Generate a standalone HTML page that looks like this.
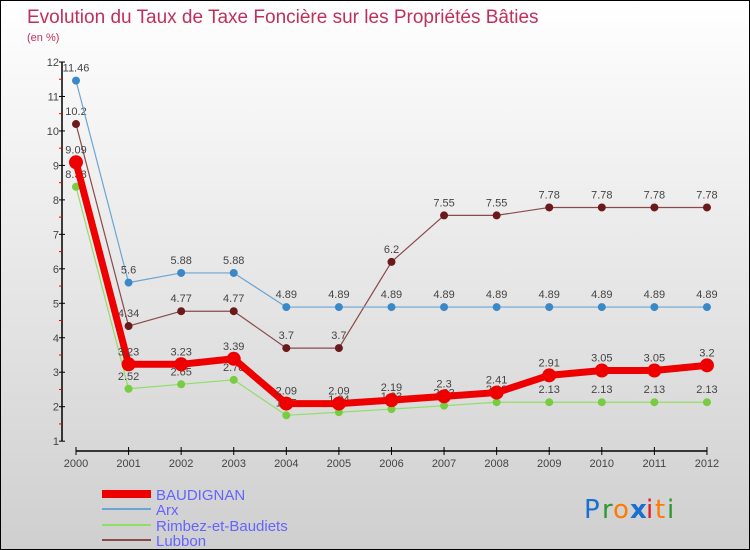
<!DOCTYPE html>
<html><head><meta charset="utf-8"><style>
body{margin:0;}
#wrap{width:750px;height:550px;position:relative;box-sizing:border-box;border:1px solid #000;background:linear-gradient(#ffffff,#cfcfcf);overflow:hidden;font-family:"Liberation Sans",sans-serif;}
svg{position:absolute;left:0;top:0;}
</style></head><body>
<div id="wrap">
<svg id="s" width="750" height="550">
<text x="26" y="22" font-size="19" fill="#c0305a">Evolution du Taux de Taxe Foncière sur les Propriétés Bâties</text>
<text x="26" y="40" font-size="11" fill="#c0305a">(en %)</text>
<g id="axes"></g><g id="series"></g>
<g>
<line x1="101" y1="493" x2="150" y2="493" stroke="#ee0000" stroke-width="8"/>
<text x="155" y="499" font-size="15" fill="#6464ff">BAUDIGNAN</text>
<line x1="101" y1="508" x2="150" y2="508" stroke="#6aa5d4" stroke-width="2"/>
<text x="155" y="514" font-size="15" fill="#6464ff">Arx</text>
<line x1="101" y1="524" x2="150" y2="524" stroke="#90de6a" stroke-width="2"/>
<text x="155" y="530" font-size="15" fill="#6464ff">Rimbez-et-Baudiets</text>
<line x1="101" y1="539" x2="150" y2="539" stroke="#8a4a4a" stroke-width="2"/>
<text x="155" y="545" font-size="15" fill="#6464ff">Lubbon</text>
</g>
<g font-size="26" font-family="'DejaVu Sans',sans-serif">
<text x="583" y="517" fill="#1a6fd0">P</text><text x="601" y="517" fill="#2a9a30">r</text><text x="612" y="517" fill="#ff7a00">o</text><text x="629" y="517" fill="#1a6fd0" font-weight="bold">x</text><text x="645" y="517" fill="#e02020">i</text><text x="654" y="517" fill="#ff7a00">t</text><text x="666" y="517" fill="#2a9a30">i</text>
</g>
</svg>
</div>
<script>
const years=[2000,2001,2002,2003,2004,2005,2006,2007,2008,2009,2010,2011,2012];
const yTicks=[1,2,3,4,5,6,7,8,9,10,11,12];
const baudignan=[9.09,3.23,3.23,3.39,2.09,2.09,2.19,2.3,2.41,2.91,3.05,3.05,3.2];
const arx=[11.46,5.6,5.88,5.88,4.89,4.89,4.89,4.89,4.89,4.89,4.89,4.89,4.89];
const rimbez=[8.38,2.52,2.65,2.78,1.75,1.84,1.93,2.03,2.13,2.13,2.13,2.13,2.13];
const lubbon=[10.2,4.34,4.77,4.77,3.7,3.7,6.2,7.55,7.55,7.78,7.78,7.78,7.78];
const NS="http://www.w3.org/2000/svg";
const X=i=>75+i*52.58;
const Y=v=>405.7-(v-2)*34.47;
function mk(tag,attrs,parent){const e=document.createElementNS(NS,tag);for(const k in attrs)e.setAttribute(k,attrs[k]);parent.appendChild(e);return e;}
const ax=document.getElementById('axes');
let yl=mk('line',{x1:61,y1:Y(12),x2:61,y2:Y(1),stroke:'#000','stroke-width':1.5},ax);


yTicks.forEach(t=>{
  mk('line',{x1:58,y1:Y(t),x2:64,y2:Y(t),stroke:'#000'},ax);
  if(t<12) mk('line',{x1:58,y1:Y(t+0.5),x2:61,y2:Y(t+0.5),stroke:'#e00'},ax);
  const tx=mk('text',{x:58,y:Y(t)+4,'font-size':11,fill:'#444','text-anchor':'end'},ax);
  
  
  tx.textContent=t;
});
let xl=mk('line',{x1:X(0),y1:450,x2:X(12),y2:450,stroke:'#000','stroke-width':1.5},ax);


years.forEach((yr,i)=>{
  mk('line',{x1:X(i),y1:446,x2:X(i),y2:454,stroke:'#000'},ax);
  const tx=mk('text',{x:X(i),y:466,'font-size':11,fill:'#444','text-anchor':'middle'},ax);
  
  
  tx.textContent=yr;
});
const sg=document.getElementById('series');
function draw(data,name,color,w,r,mc){
  const g=mk('g',{},sg);
  
  
  const p=mk('polyline',{points:data.map((v,i)=>X(i)+','+Y(v)).join(' '),fill:'none',stroke:color,'stroke-width':w,'stroke-linejoin':'round'},g);
  
  
  data.forEach((v,i)=>{
    const c=mk('circle',{cx:X(i),cy:Y(v),r:r,fill:mc},g);
    
    
    const t=mk('text',{x:X(i),y:Y(v)-9,'font-size':11,fill:'#444','text-anchor':'middle'},g);
    
    
    t.textContent=v;
  });
}
draw(lubbon,'lubbon','#8a4a4a',1.2,4,'#6a1a1a');
draw(arx,'arx','#6aa5d4',1.2,4,'#3a88c8');
draw(rimbez,'rimbez','#90de6a',1.2,4,'#78cc40');
draw(baudignan,'baudignan','#ee0000',7,7,'#ee0000');
</script>
</body></html>
